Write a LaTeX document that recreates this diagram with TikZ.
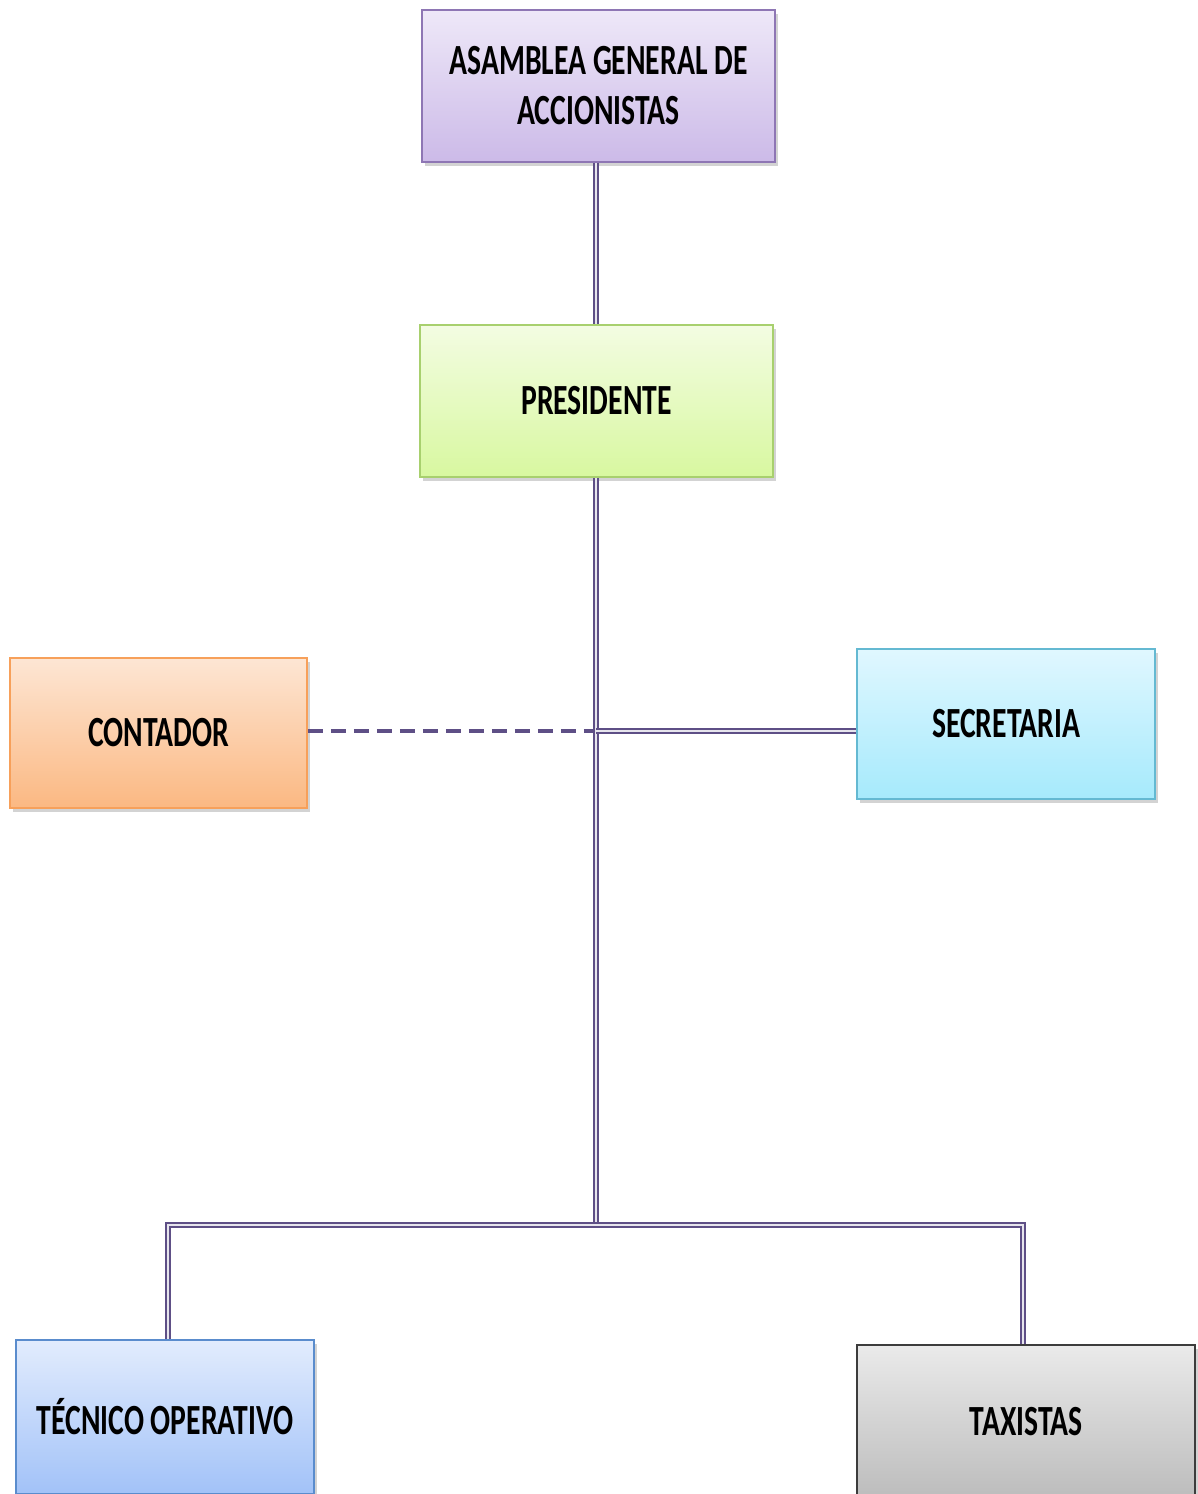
\documentclass[tikz,border=0pt]{standalone}
\usepackage{fontspec}
\setmainfont{Carlito}
\usetikzlibrary{shadows}
\definecolor{linec}{HTML}{5E4F86}
\newcommand{\sqz}[1]{\scalebox{0.69}[1]{#1}}
\tikzset{
  box/.style={draw, line width=1.5pt, minimum width=#1, inner sep=0pt,
    font=\fontsize{43}{52}\selectfont\bfseries, text=black, align=center,
    drop shadow={opacity=0.35, shadow xshift=3pt, shadow yshift=-4pt}},
  dline/.style={draw=linec, line width=2pt, double=white!85!linec, double distance=2pt},
  dashline/.style={draw=linec, line width=3.5pt, dash pattern=on 15pt off 8pt},
}
\begin{document}
\begin{tikzpicture}[x=1pt,y=-1pt]
\useasboundingbox (0,0) rectangle (1197,1494);
% nodes
\node[box=353pt, minimum height=152pt, top color={rgb,255:red,238;green,232;blue,248}, bottom color={rgb,255:red,204;green,186;blue,232}, draw={rgb,255:red,142;green,118;blue,180}] (asamblea) at (598.5,86)
  {\sqz{ASAMBLEA GENERAL DE}\\[-2pt]\sqz{ACCIONISTAS}};
\node[box=353pt, minimum height=152pt, top color={rgb,255:red,243;green,252;blue,226}, bottom color={rgb,255:red,216;green,248;blue,160}, draw={rgb,255:red,168;green,208;blue,110}] (presidente) at (596.5,401)
  {\sqz{PRESIDENTE}};
\node[box=297pt, minimum height=150pt, top color={rgb,255:red,253;green,230;blue,212}, bottom color={rgb,255:red,251;green,184;blue,130}, draw={rgb,255:red,247;green,160;blue,90}] (contador) at (158.5,733)
  {\sqz{CONTADOR}};
\node[box=298pt, minimum height=150pt, top color={rgb,255:red,224;green,247;blue,255}, bottom color={rgb,255:red,166;green,234;blue,252}, draw={rgb,255:red,100;green,185;blue,210}] (secretaria) at (1006,724)
  {\sqz{SECRETARIA}};
\node[box=298pt, minimum height=154pt, top color={rgb,255:red,226;green,236;blue,253}, bottom color={rgb,255:red,162;green,194;blue,248}, draw={rgb,255:red,90;green,140;blue,205}] (tecnico) at (165,1417)
  {\sqz{TÉCNICO OPERATIVO}};
\node[box=338pt, minimum height=154pt, top color={rgb,255:red,234;green,234;blue,234}, bottom color={rgb,255:red,188;green,188;blue,188}, draw={rgb,255:red,60;green,60;blue,60}] (taxistas) at (1026,1422)
  {\sqz{TAXISTAS}};
% junction coordinates
\coordinate (j1) at (596,731);
\coordinate (j2) at (596,1225);
\coordinate (jl) at (168,1225);
\coordinate (jr) at (1023,1225);
% connectors
\draw[dline] (asamblea.south -| j1) -- (presidente.north -| j1);
\draw[dline] (presidente.south -| j1) -- (j2);
\draw[dline] (j1) -- (secretaria.west |- j1);
\draw[dline] (tecnico.north -| jl) -- (jl) -- (jr) -- (taxistas.north -| jr);
\draw[dashline] (contador.east |- j1) -- ([xshift=-3pt]j1);
\end{tikzpicture}
\end{document}
